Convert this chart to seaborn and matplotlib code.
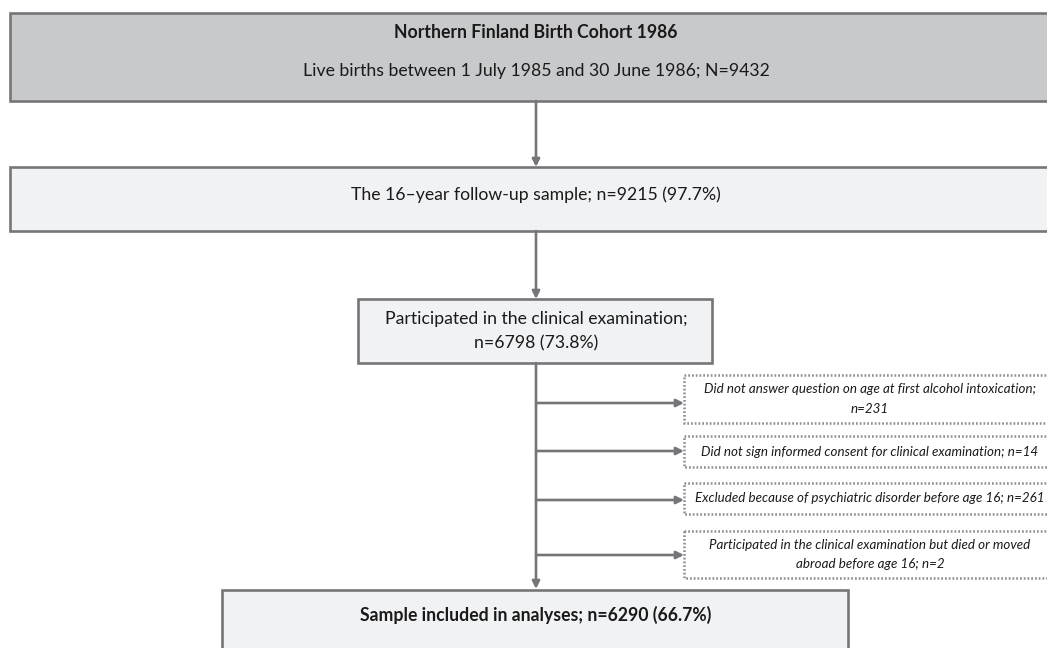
import matplotlib
matplotlib.use("Agg")
import matplotlib.pyplot as plt
from matplotlib.patches import Rectangle, FancyArrowPatch
import seaborn as sns

sns.set_theme(style="white")
plt.rcParams['font.family'] = ['Lato', 'DejaVu Sans']

# ---- content ----
cohort_title = "Northern Finland Birth Cohort 1986"
cohort_desc = "Live births between 1 July 1985 and 30 June 1986; N=9432"
followup_text = "The 16\u2013year follow-up sample; n=9215 (97.7%)"
clinical_lines = ["Participated in the clinical examination;", "n=6798 (73.8%)"]
exclusion_texts = [
    ["Did not answer question on age at first alcohol intoxication;", "n=231"],
    ["Did not sign informed consent for clinical examination; n=14"],
    ["Excluded because of psychiatric disorder before age 16; n=261"],
    ["Participated in the clinical examination but died or moved", "abroad before age 16; n=2"],
]
final_text = "Sample included in analyses; n=6290 (66.7%)"

# ---- layout (pixels, y downwards) ----
W, H = 1047, 648
dark_fill = "#c8c9cb"
light_fill = "#f1f2f4"
edge = "#76767a"
dot_edge = "#8c8c8e"
txt = "#1a1a1a"
fs_main = 12.7
fs_ital = 9.6

fig = plt.figure(figsize=(W / 100, H / 100), dpi=100)
ax = fig.add_axes([0, 0, 1, 1])
ax.set_xlim(0, W)
ax.set_ylim(H, 0)
ax.axis("off")


def box(x0, y0, x1, y1, fc, ec=edge, lw=1.9, ls="-"):
    ax.add_patch(Rectangle((x0, y0), x1 - x0, y1 - y0, facecolor=fc,
                           edgecolor=ec, linewidth=lw, linestyle=ls, zorder=2))


def arrow(x0, y0, x1, y1):
    ax.add_patch(FancyArrowPatch((x0, y0), (x1, y1), arrowstyle="-|>",
                                 mutation_scale=11, color=edge, linewidth=1.9,
                                 shrinkA=0, shrinkB=0, zorder=3))


cx = 536

# Box 1
box(10, 13, 1060, 101, dark_fill)
ax.text(cx, 33, cohort_title, ha="center", va="center", fontsize=fs_main,
        fontweight="bold", color=txt, zorder=4)
ax.text(cx, 71, cohort_desc, ha="center", va="center", fontsize=fs_main,
        color=txt, zorder=4)
arrow(cx, 101, cx, 167)

# Box 2
box(10, 167, 1060, 231, light_fill)
ax.text(cx, 195, followup_text, ha="center", va="center", fontsize=fs_main,
        color=txt, zorder=4)
arrow(cx, 231, cx, 299)

# Box 3
box(358, 299, 712, 363, light_fill)
for yy, line in zip([319, 343], clinical_lines):
    ax.text(cx, yy, line, ha="center", va="center", fontsize=fs_main,
            color=txt, zorder=4)

# trunk
arrow(cx, 363, cx, 589)

# exclusion boxes
ex_boxes = [(375, 423), (436, 467), (483, 514), (531, 578)]
arrow_y = [403, 451, 500, 555]
for (y0, y1), ay, lines in zip(ex_boxes, arrow_y, exclusion_texts):
    box(684, y0, 1056, y1, "white", ec=dot_edge, lw=1.8, ls=(0, (0.7, 0.8)))
    arrow(cx, ay, 684, ay)
    mid = (y0 + y1) / 2
    n = len(lines)
    for i, line in enumerate(lines):
        yy = mid + (i - (n - 1) / 2) * 19.5
        ax.text(870, yy, line, ha="center", va="center", fontsize=fs_ital,
                style="italic", color=txt, zorder=4)

# final box
box(222, 590, 848, 660, light_fill)
ax.text(cx, 615, final_text, ha="center", va="center", fontsize=fs_main,
        fontweight="bold", color=txt, zorder=4)

fig.savefig("out.png", dpi=100)
